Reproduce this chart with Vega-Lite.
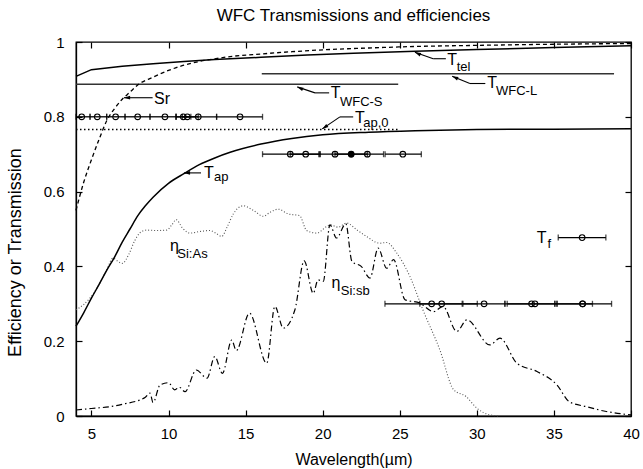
{
  "$schema": "https://vega.github.io/schema/vega-lite/v6.json",
  "width": 555,
  "height": 374,
  "autosize": {"type": "none"},
  "padding": {"left": 76, "top": 42, "right": 12, "bottom": 53},
  "title": {"text": "WFC Transmissions and efficiencies", "font": "Liberation Sans", "fontSize": 17, "fontWeight": "normal", "color": "black", "offset": 10},
  "config": {
    "view": {"stroke": "black", "strokeWidth": 1.3},
    "axis": {"grid": false, "tickSize": -6, "tickColor": "black", "tickWidth": 1.2, "domainColor": "black", "domainWidth": 1.3, "labelFont": "Liberation Sans", "labelFontSize": 15, "labelColor": "black", "labelFlush": false, "titleFont": "Liberation Sans", "titleFontWeight": "normal", "titleColor": "black"}
  },
  "datasets": {
    "curves": [
      {"s": "Ttel", "x": 4, "y": 0.908}, {"s": "Ttel", "x": 5, "y": 0.926}, {"s": "Ttel", "x": 7, "y": 0.935}, {"s": "Ttel", "x": 9, "y": 0.942}, {"s": "Ttel", "x": 11, "y": 0.948}, {"s": "Ttel", "x": 13, "y": 0.953}, {"s": "Ttel", "x": 16, "y": 0.959}, {"s": "Ttel", "x": 19, "y": 0.965}, {"s": "Ttel", "x": 22, "y": 0.97}, {"s": "Ttel", "x": 26, "y": 0.975}, {"s": "Ttel", "x": 30, "y": 0.98}, {"s": "Ttel", "x": 35, "y": 0.985}, {"s": "Ttel", "x": 40, "y": 0.99},
      {"s": "Sr", "x": 4, "y": 0.55}, {"s": "Sr", "x": 4.5, "y": 0.625}, {"s": "Sr", "x": 5, "y": 0.685}, {"s": "Sr", "x": 5.5, "y": 0.74}, {"s": "Sr", "x": 6, "y": 0.79}, {"s": "Sr", "x": 6.5, "y": 0.822}, {"s": "Sr", "x": 7, "y": 0.847}, {"s": "Sr", "x": 7.5, "y": 0.866}, {"s": "Sr", "x": 8, "y": 0.885}, {"s": "Sr", "x": 9, "y": 0.906}, {"s": "Sr", "x": 10, "y": 0.924}, {"s": "Sr", "x": 11, "y": 0.938}, {"s": "Sr", "x": 12, "y": 0.948}, {"s": "Sr", "x": 13, "y": 0.955}, {"s": "Sr", "x": 14, "y": 0.961}, {"s": "Sr", "x": 16, "y": 0.968}, {"s": "Sr", "x": 18, "y": 0.974}, {"s": "Sr", "x": 20, "y": 0.979}, {"s": "Sr", "x": 23, "y": 0.984}, {"s": "Sr", "x": 26, "y": 0.988}, {"s": "Sr", "x": 30, "y": 0.991}, {"s": "Sr", "x": 35, "y": 0.994}, {"s": "Sr", "x": 40, "y": 0.996},
      {"s": "Tap", "x": 4, "y": 0.24}, {"s": "Tap", "x": 4.5, "y": 0.276}, {"s": "Tap", "x": 5, "y": 0.315}, {"s": "Tap", "x": 5.5, "y": 0.352}, {"s": "Tap", "x": 6, "y": 0.39}, {"s": "Tap", "x": 6.5, "y": 0.425}, {"s": "Tap", "x": 7, "y": 0.465}, {"s": "Tap", "x": 7.5, "y": 0.5}, {"s": "Tap", "x": 8, "y": 0.535}, {"s": "Tap", "x": 8.5, "y": 0.562}, {"s": "Tap", "x": 9, "y": 0.585}, {"s": "Tap", "x": 10, "y": 0.622}, {"s": "Tap", "x": 11, "y": 0.648}, {"s": "Tap", "x": 12, "y": 0.672}, {"s": "Tap", "x": 13, "y": 0.69}, {"s": "Tap", "x": 14, "y": 0.705}, {"s": "Tap", "x": 16, "y": 0.727}, {"s": "Tap", "x": 18, "y": 0.742}, {"s": "Tap", "x": 20, "y": 0.752}, {"s": "Tap", "x": 23, "y": 0.759}, {"s": "Tap", "x": 26, "y": 0.763}, {"s": "Tap", "x": 30, "y": 0.766}, {"s": "Tap", "x": 35, "y": 0.767}, {"s": "Tap", "x": 40, "y": 0.768},
      {"s": "Tap0", "x": 4, "y": 0.766}, {"s": "Tap0", "x": 24.9, "y": 0.766},
      {"s": "WS", "x": 4, "y": 0.887}, {"s": "WS", "x": 24.9, "y": 0.887},
      {"s": "WL", "x": 16.05, "y": 0.915}, {"s": "WL", "x": 38.9, "y": 0.915},
      {"s": "As", "x": 4, "y": 0.284}, {"s": "As", "x": 4.5, "y": 0.298}, {"s": "As", "x": 4.9, "y": 0.315}, {"s": "As", "x": 5.5, "y": 0.352}, {"s": "As", "x": 6.0, "y": 0.392}, {"s": "As", "x": 6.4, "y": 0.422}, {"s": "As", "x": 6.7, "y": 0.414}, {"s": "As", "x": 7.0, "y": 0.408}, {"s": "As", "x": 7.4, "y": 0.43}, {"s": "As", "x": 7.8, "y": 0.468}, {"s": "As", "x": 8.15, "y": 0.49}, {"s": "As", "x": 8.6, "y": 0.497}, {"s": "As", "x": 9.2, "y": 0.496}, {"s": "As", "x": 9.88, "y": 0.497}, {"s": "As", "x": 10.2, "y": 0.51}, {"s": "As", "x": 10.5, "y": 0.525}, {"s": "As", "x": 10.9, "y": 0.503}, {"s": "As", "x": 11.4, "y": 0.489}, {"s": "As", "x": 12.0, "y": 0.493}, {"s": "As", "x": 12.7, "y": 0.496}, {"s": "As", "x": 13.1, "y": 0.488}, {"s": "As", "x": 13.45, "y": 0.48}, {"s": "As", "x": 13.8, "y": 0.505}, {"s": "As", "x": 14.2, "y": 0.54}, {"s": "As", "x": 14.85, "y": 0.562}, {"s": "As", "x": 15.5, "y": 0.55}, {"s": "As", "x": 16.15, "y": 0.534}, {"s": "As", "x": 16.6, "y": 0.545}, {"s": "As", "x": 17.1, "y": 0.553}, {"s": "As", "x": 17.8, "y": 0.54}, {"s": "As", "x": 18.5, "y": 0.536}, {"s": "As", "x": 18.96, "y": 0.496}, {"s": "As", "x": 19.6, "y": 0.489}, {"s": "As", "x": 20.5, "y": 0.511}, {"s": "As", "x": 21.0, "y": 0.505}, {"s": "As", "x": 21.55, "y": 0.516}, {"s": "As", "x": 22.2, "y": 0.498}, {"s": "As", "x": 22.85, "y": 0.48}, {"s": "As", "x": 23.7, "y": 0.462}, {"s": "As", "x": 24.15, "y": 0.464}, {"s": "As", "x": 24.8, "y": 0.436}, {"s": "As", "x": 25.66, "y": 0.373}, {"s": "As", "x": 26.5, "y": 0.284}, {"s": "As", "x": 27.6, "y": 0.177}, {"s": "As", "x": 28.5, "y": 0.07}, {"s": "As", "x": 29.3, "y": 0.052}, {"s": "As", "x": 30.0, "y": 0.021}, {"s": "As", "x": 30.85, "y": 0.003}, {"s": "As", "x": 31.5, "y": 0.0},
      {"s": "Sb", "x": 4, "y": 0.016}, {"s": "Sb", "x": 5, "y": 0.02}, {"s": "Sb", "x": 6.2, "y": 0.025}, {"s": "Sb", "x": 7.2, "y": 0.033}, {"s": "Sb", "x": 8.15, "y": 0.043}, {"s": "Sb", "x": 8.5, "y": 0.05}, {"s": "Sb", "x": 8.8, "y": 0.061}, {"s": "Sb", "x": 9.0, "y": 0.036}, {"s": "Sb", "x": 9.45, "y": 0.083}, {"s": "Sb", "x": 10.0, "y": 0.089}, {"s": "Sb", "x": 10.4, "y": 0.07}, {"s": "Sb", "x": 10.7, "y": 0.077}, {"s": "Sb", "x": 11.07, "y": 0.065}, {"s": "Sb", "x": 11.8, "y": 0.123}, {"s": "Sb", "x": 12.5, "y": 0.101}, {"s": "Sb", "x": 13.0, "y": 0.159}, {"s": "Sb", "x": 13.5, "y": 0.114}, {"s": "Sb", "x": 14.1, "y": 0.203}, {"s": "Sb", "x": 14.4, "y": 0.175}, {"s": "Sb", "x": 15.25, "y": 0.275}, {"s": "Sb", "x": 16.37, "y": 0.141}, {"s": "Sb", "x": 16.9, "y": 0.293}, {"s": "Sb", "x": 17.45, "y": 0.235}, {"s": "Sb", "x": 18.2, "y": 0.284}, {"s": "Sb", "x": 18.8, "y": 0.415}, {"s": "Sb", "x": 19.39, "y": 0.328}, {"s": "Sb", "x": 19.7, "y": 0.364}, {"s": "Sb", "x": 20.04, "y": 0.36}, {"s": "Sb", "x": 20.47, "y": 0.511}, {"s": "Sb", "x": 20.9, "y": 0.476}, {"s": "Sb", "x": 21.5, "y": 0.514}, {"s": "Sb", "x": 21.9, "y": 0.413}, {"s": "Sb", "x": 22.5, "y": 0.4}, {"s": "Sb", "x": 23.07, "y": 0.369}, {"s": "Sb", "x": 23.6, "y": 0.449}, {"s": "Sb", "x": 24.15, "y": 0.395}, {"s": "Sb", "x": 24.6, "y": 0.418}, {"s": "Sb", "x": 25.34, "y": 0.311}, {"s": "Sb", "x": 26.3, "y": 0.302}, {"s": "Sb", "x": 27.2, "y": 0.279}, {"s": "Sb", "x": 27.8, "y": 0.293}, {"s": "Sb", "x": 28.7, "y": 0.226}, {"s": "Sb", "x": 29.35, "y": 0.257}, {"s": "Sb", "x": 30.85, "y": 0.19}, {"s": "Sb", "x": 31.5, "y": 0.208}, {"s": "Sb", "x": 32.6, "y": 0.141}, {"s": "Sb", "x": 33.9, "y": 0.119}, {"s": "Sb", "x": 35.2, "y": 0.083}, {"s": "Sb", "x": 36.0, "y": 0.038}, {"s": "Sb", "x": 37.1, "y": 0.025}, {"s": "Sb", "x": 38.4, "y": 0.012}, {"s": "Sb", "x": 40, "y": 0.003}
    ],
    "filters": [
      {"y": 0.8, "c": 4.37, "lo": 4.0, "hi": 4.91}, {"y": 0.8, "c": 5.38, "lo": 4.91, "hi": 5.99}, {"y": 0.8, "c": 6.57, "lo": 5.99, "hi": 7.18}, {"y": 0.8, "c": 8.0, "lo": 7.18, "hi": 8.8}, {"y": 0.8, "c": 9.77, "lo": 8.8, "hi": 10.49}, {"y": 0.8, "c": 10.96, "lo": 10.49, "hi": 11.45}, {"y": 0.8, "c": 11.22, "lo": 10.9, "hi": 11.93}, {"y": 0.8, "c": 11.93, "lo": 10.49, "hi": 13.12}, {"y": 0.8, "c": 14.64, "lo": 13.12, "hi": 16.1},
      {"y": 0.7, "c": 17.9, "lo": 16.1, "hi": 19.75}, {"y": 0.7, "c": 18.9, "lo": 17.9, "hi": 19.85}, {"y": 0.7, "c": 20.8, "lo": 19.8, "hi": 21.85}, {"y": 0.7, "c": 21.85, "lo": 20.8, "hi": 22.9}, {"y": 0.7, "c": 22.9, "lo": 21.85, "hi": 23.95}, {"y": 0.7, "c": 25.2, "lo": 24.05, "hi": 26.4},
      {"y": 0.3, "c": 27.07, "lo": 24.04, "hi": 30.03}, {"y": 0.3, "c": 27.72, "lo": 26.3, "hi": 29.05}, {"y": 0.3, "c": 30.47, "lo": 29.1, "hi": 31.82}, {"y": 0.3, "c": 33.55, "lo": 31.97, "hi": 35.06}, {"y": 0.3, "c": 33.77, "lo": 31.82, "hi": 35.2}, {"y": 0.3, "c": 36.86, "lo": 35.06, "hi": 37.5}, {"y": 0.3, "c": 36.86, "lo": 35.2, "hi": 38.74},
      {"y": 0.477, "c": 36.83, "lo": 35.28, "hi": 38.37}
    ],
    "arrows": [
      {"n": "Sr", "tx": 7.11, "ty": 0.851, "ex": 8.97, "ey": 0.851, "lx": 8.97, "ly": 0.851},
      {"n": "Tap", "tx": 11.0, "ty": 0.65, "ex": 12.11, "ey": 0.65, "lx": 12.11, "ly": 0.65},
      {"n": "Ttel", "tx": 25.98, "ty": 0.9727, "ex": 27.17, "ey": 0.9553, "lx": 27.99, "ly": 0.9553},
      {"n": "WL", "tx": 28.4, "ty": 0.9084, "ex": 29.55, "ey": 0.889, "lx": 30.55, "ly": 0.889},
      {"n": "WS", "tx": 18.35, "ty": 0.88, "ex": 19.5, "ey": 0.864, "lx": 20.42, "ly": 0.864},
      {"n": "Tap0", "tx": 19.97, "ty": 0.7676, "ex": 21.12, "ey": 0.7997, "lx": 21.98, "ly": 0.7997}
    ],
    "labels": [
      {"t": "Sr", "k": "main", "x": 9.06, "y": 0.833},
      {"t": "T", "k": "main", "x": 12.3, "y": 0.636}, {"t": "ap", "k": "sub", "x": 12.95, "y": 0.6273},
      {"t": "T", "k": "main", "x": 28.08, "y": 0.9398}, {"t": "tel", "k": "sub", "x": 28.69, "y": 0.9218},
      {"t": "T", "k": "main", "x": 30.67, "y": 0.8774}, {"t": "WFC-L", "k": "sub", "x": 31.24, "y": 0.8594},
      {"t": "T", "k": "main", "x": 20.52, "y": 0.8506}, {"t": "WFC-S", "k": "sub", "x": 21.12, "y": 0.83},
      {"t": "T", "k": "main", "x": 22.09, "y": 0.7837}, {"t": "ap,0", "k": "sub", "x": 22.63, "y": 0.7724},
      {"t": "η", "k": "main", "x": 10.1, "y": 0.4402}, {"t": "Si:As", "k": "sub", "x": 10.57, "y": 0.423},
      {"t": "η", "k": "main", "x": 20.58, "y": 0.3419}, {"t": "Si:sb", "k": "sub", "x": 21.17, "y": 0.324},
      {"t": "T", "k": "main", "x": 33.88, "y": 0.4624}, {"t": "f", "k": "sub", "x": 34.58, "y": 0.4498}
    ]
  },
  "layer": [
    {
      "layer": [
        {
          "data": {"name": "curves"},
          "transform": [{"filter": "datum.s == 'As'"}],
          "mark": {"type": "line", "interpolate": "monotone", "color": "#555555", "strokeWidth": 1.1, "strokeDash": [1, 2]},
          "encoding": {
            "x": {"field": "x", "type": "quantitative", "scale": {"domain": [4, 40], "nice": false, "zero": false}, "axis": {"values": [5, 10, 15, 20, 25, 30, 35, 40], "title": "Wavelength(µm)", "titleFontSize": 16, "labelPadding": 16, "titlePadding": 10}},
            "y": {"field": "y", "type": "quantitative", "scale": {"domain": [0, 1], "nice": false, "zero": false}, "axis": {"values": [0, 0.2, 0.4, 0.6, 0.8, 1], "format": "~g", "title": "Efficiency or Transmission", "titleFontSize": 18, "labelPadding": 18, "titlePadding": 19, "titleY": 210}}
          }
        },
        {
          "data": {"name": "curves"},
          "transform": [{"filter": "datum.s == 'Sb'"}],
          "mark": {"type": "line", "interpolate": "monotone", "color": "black", "strokeWidth": 1.2, "strokeDash": [6, 3, 1.5, 3]},
          "encoding": {"x": {"field": "x", "type": "quantitative"}, "y": {"field": "y", "type": "quantitative"}}
        },
        {
          "data": {"name": "curves"},
          "transform": [{"filter": "datum.s == 'Tap0'"}],
          "mark": {"type": "line", "color": "black", "strokeWidth": 1.3, "strokeDash": [1.5, 2.5]},
          "encoding": {"x": {"field": "x", "type": "quantitative"}, "y": {"field": "y", "type": "quantitative"}}
        },
        {
          "data": {"name": "curves"},
          "transform": [{"filter": "datum.s == 'WS' || datum.s == 'WL'"}],
          "mark": {"type": "line", "color": "#333333", "strokeWidth": 1.5},
          "encoding": {"x": {"field": "x", "type": "quantitative"}, "y": {"field": "y", "type": "quantitative"}, "detail": {"field": "s"}}
        },
        {
          "data": {"name": "curves"},
          "transform": [{"filter": "datum.s == 'Ttel'"}],
          "mark": {"type": "line", "color": "black", "strokeWidth": 1.5},
          "encoding": {"x": {"field": "x", "type": "quantitative"}, "y": {"field": "y", "type": "quantitative"}}
        },
        {
          "data": {"name": "curves"},
          "transform": [{"filter": "datum.s == 'Tap'"}],
          "mark": {"type": "line", "interpolate": "monotone", "color": "black", "strokeWidth": 1.5},
          "encoding": {"x": {"field": "x", "type": "quantitative"}, "y": {"field": "y", "type": "quantitative"}}
        },
        {
          "data": {"name": "curves"},
          "transform": [{"filter": "datum.s == 'Sr'"}],
          "mark": {"type": "line", "interpolate": "monotone", "color": "black", "strokeWidth": 1.3, "strokeDash": [4, 3]},
          "encoding": {"x": {"field": "x", "type": "quantitative"}, "y": {"field": "y", "type": "quantitative"}}
        },
        {
          "data": {"name": "filters"},
          "mark": {"type": "rule", "color": "black", "strokeWidth": 1.3},
          "encoding": {"x": {"field": "lo", "type": "quantitative"}, "x2": {"field": "hi"}, "y": {"field": "y", "type": "quantitative"}}
        },
        {
          "data": {"name": "filters"},
          "mark": {"type": "tick", "orient": "vertical", "color": "black", "size": 6, "thickness": 1.3},
          "encoding": {"x": {"field": "lo", "type": "quantitative"}, "y": {"field": "y", "type": "quantitative"}}
        },
        {
          "data": {"name": "filters"},
          "mark": {"type": "tick", "orient": "vertical", "color": "black", "size": 6, "thickness": 1.3},
          "encoding": {"x": {"field": "hi", "type": "quantitative"}, "y": {"field": "y", "type": "quantitative"}}
        },
        {
          "data": {"name": "filters"},
          "mark": {"type": "point", "shape": "circle", "filled": false, "color": "black", "strokeWidth": 1.1, "size": 32, "opacity": 1},
          "encoding": {"x": {"field": "c", "type": "quantitative"}, "y": {"field": "y", "type": "quantitative"}}
        },
        {
          "data": {"name": "filters"},
          "transform": [{"filter": "datum.c == 21.85"}],
          "mark": {"type": "point", "shape": "circle", "filled": true, "color": "black", "size": 36, "opacity": 1},
          "encoding": {"x": {"field": "c", "type": "quantitative"}, "y": {"field": "y", "type": "quantitative"}}
        },
        {
          "data": {"name": "arrows"},
          "mark": {"type": "rule", "color": "black", "strokeWidth": 1.1},
          "encoding": {"x": {"field": "tx", "type": "quantitative"}, "y": {"field": "ty", "type": "quantitative"}, "x2": {"field": "ex"}, "y2": {"field": "ey"}}
        },
        {
          "data": {"name": "arrows"},
          "mark": {"type": "rule", "color": "black", "strokeWidth": 1.1},
          "encoding": {"x": {"field": "ex", "type": "quantitative"}, "y": {"field": "ey", "type": "quantitative"}, "x2": {"field": "lx"}, "y2": {"field": "ly"}}
        },
        {
          "data": {"name": "arrows"},
          "transform": [{"filter": "datum.n == 'Sr' || datum.n == 'Tap'"}],
          "mark": {"type": "point", "shape": "M0,0L0.4,1.3L-0.4,1.3Z", "filled": true, "color": "black", "size": 90, "opacity": 1, "angle": 270},
          "encoding": {"x": {"field": "tx", "type": "quantitative"}, "y": {"field": "ty", "type": "quantitative"}}
        },
        {
          "data": {"name": "arrows"},
          "transform": [{"filter": "datum.n == 'Ttel' || datum.n == 'WL' || datum.n == 'WS'"}],
          "mark": {"type": "point", "shape": "M0,0L0.4,1.3L-0.4,1.3Z", "filled": true, "color": "black", "size": 90, "opacity": 1, "angle": 294},
          "encoding": {"x": {"field": "tx", "type": "quantitative"}, "y": {"field": "ty", "type": "quantitative"}}
        },
        {
          "data": {"name": "arrows"},
          "transform": [{"filter": "datum.n == 'Tap0'"}],
          "mark": {"type": "point", "shape": "M0,0L0.4,1.3L-0.4,1.3Z", "filled": true, "color": "black", "size": 90, "opacity": 1, "angle": 236},
          "encoding": {"x": {"field": "tx", "type": "quantitative"}, "y": {"field": "ty", "type": "quantitative"}}
        },
        {
          "data": {"name": "labels"},
          "transform": [{"filter": "datum.k == 'main'"}],
          "mark": {"type": "text", "align": "left", "baseline": "alphabetic", "font": "Liberation Sans", "fontSize": 16, "color": "black"},
          "encoding": {"x": {"field": "x", "type": "quantitative"}, "y": {"field": "y", "type": "quantitative"}, "text": {"field": "t"}}
        },
        {
          "data": {"name": "labels"},
          "transform": [{"filter": "datum.k == 'sub'"}],
          "mark": {"type": "text", "align": "left", "baseline": "alphabetic", "font": "Liberation Sans", "fontSize": 13, "color": "black"},
          "encoding": {"x": {"field": "x", "type": "quantitative"}, "y": {"field": "y", "type": "quantitative"}, "text": {"field": "t"}}
        }
      ]
    },
    {
      "data": {"name": "filters"},
      "mark": {"type": "point", "opacity": 0},
      "encoding": {
        "x": {"field": "c", "type": "quantitative", "scale": {"domain": [4, 40], "nice": false, "zero": false}, "axis": {"orient": "top", "values": [5, 10, 15, 20, 25, 30, 35, 40], "labels": false, "title": null, "domain": false}},
        "y": {"field": "y", "type": "quantitative", "scale": {"domain": [0, 1], "nice": false, "zero": false}, "axis": {"orient": "right", "values": [0, 0.2, 0.4, 0.6, 0.8, 1], "labels": false, "title": null, "domain": false}}
      }
    }
  ],
  "resolve": {"axis": {"x": "independent", "y": "independent"}}
}
